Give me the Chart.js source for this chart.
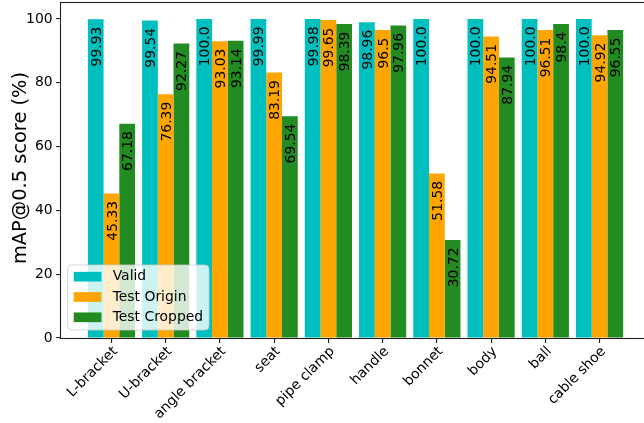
<!DOCTYPE html>
<html>
<head>
<meta charset="utf-8">
<script src="https://cdn.jsdelivr.net/npm/chart.js@4.4.1/dist/chart.umd.min.js"></script>
<style>
  html, body { margin: 0; padding: 0; background: #fff; overflow: hidden; }
  #wrap { width: 644px; height: 423px; overflow: hidden; position: relative; }
  canvas { display: block; }
</style>
</head>
<body>
<div id="wrap"><canvas id="chart" width="660" height="423" style="width:660px;height:423px"></canvas></div>
<script>
// Per-class mAP@0.5 scores (%)
const categories = ['L-bracket', 'U-bracket', 'angle bracket', 'seat', 'pipe clamp',
                    'handle', 'bonnet', 'body', 'ball', 'cable shoe'];
const validScores       = [99.93, 99.54, 100.0, 99.99, 99.98, 98.96, 100.0, 100.0, 100.0, 100.0];
const testOriginScores  = [45.33, 76.39, 93.03, 83.19, 99.65, 96.5, 51.58, 94.51, 96.51, 94.92];
const testCroppedScores = [67.18, 92.27, 93.14, 69.54, 98.39, 97.96, 30.72, 87.94, 98.4, 96.55];
const seriesNames = ['Valid', 'Test Origin', 'Test Cropped'];
const yTickValues = [0, 20, 40, 60, 80, 100];
const yAxisTitle = 'mAP@0.5 score (%)';

const seriesValues = [validScores, testOriginScores, testCroppedScores];
const seriesColors = ['#00bfbf', '#ffa500', '#228b22'];
const FONT = "'DejaVu Sans', 'Liberation Sans', sans-serif";
const BASE = 13.9;   // 10pt text
const TITLE = 19.4;  // 14pt text

// Show values the way Python prints floats (100.0, 96.5, 99.93)
function formatScore(v) {
  return Number.isInteger(v) ? v.toFixed(1) : String(v);
}

const datasets = seriesNames.map((name, i) => ({
  label: name,
  data: seriesValues[i].map((v, j) => ({ x: j, y: v })),
  backgroundColor: seriesColors[i],
  borderWidth: 0,
  categoryPercentage: 0.87,
  barPercentage: 1.0
}));

// Value labels, frame, legend and y-axis title
const decorations = {
  id: 'decorations',
  afterDatasetsDraw(chart) {
    const ctx = chart.ctx;
    ctx.save();
    ctx.font = BASE + 'px ' + FONT;
    ctx.fillStyle = '#000';
    ctx.textAlign = 'right';
    ctx.textBaseline = 'alphabetic';
    chart.data.datasets.forEach((ds, i) => {
      const meta = chart.getDatasetMeta(i);
      meta.data.forEach((bar, j) => {
        ctx.save();
        ctx.translate(bar.x, bar.y + 7.5);
        ctx.rotate(-Math.PI / 2);
        ctx.fillText(formatScore(seriesValues[i][j]), 0, 0.365 * BASE);
        ctx.restore();
      });
    });
    ctx.restore();
  },
  afterDraw(chart) {
    const ctx = chart.ctx;
    const a = chart.chartArea;

    // axes frame
    ctx.save();
    ctx.strokeStyle = '#222';
    ctx.lineWidth = 1.1;
    ctx.strokeRect(Math.round(a.left) - 0.5, Math.round(a.top) - 0.5,
                   Math.round(a.right - a.left) + 1, Math.round(a.bottom - a.top) + 1);
    ctx.restore();

    // legend (lower left, translucent box)
    ctx.save();
    const bx = a.left + 6.7, by = 265, bw = 141.3, bh = 65;
    ctx.beginPath();
    if (ctx.roundRect) ctx.roundRect(bx, by, bw, bh, 4); else ctx.rect(bx, by, bw, bh);
    ctx.fillStyle = 'rgba(255,255,255,0.8)';
    ctx.fill();
    ctx.strokeStyle = 'rgba(204,204,204,0.8)';
    ctx.lineWidth = 1;
    ctx.stroke();
    ctx.font = BASE + 'px ' + FONT;
    ctx.textAlign = 'left';
    ctx.textBaseline = 'middle';
    seriesNames.forEach((name, i) => {
      const cy = 276.7 + i * 20.3;
      ctx.fillStyle = seriesColors[i];
      ctx.fillRect(bx + 6, cy - 4.85, 27.8, 9.7);
      ctx.fillStyle = '#000';
      ctx.fillText(name, bx + 45, cy);
    });
    ctx.restore();

    // y-axis title
    ctx.save();
    ctx.translate(26, 168);
    ctx.rotate(-Math.PI / 2);
    ctx.font = TITLE + 'px ' + FONT;
    ctx.fillStyle = '#000';
    ctx.textAlign = 'center';
    ctx.textBaseline = 'alphabetic';
    ctx.fillText(yAxisTitle, 0, 0);
    ctx.restore();
  }
};

new Chart(document.getElementById('chart'), {
  type: 'bar',
  data: { datasets },
  options: {
    responsive: false,
    animation: false,
    devicePixelRatio: 1,
    layout: { padding: { top: 3, right: 10, left: 0, bottom: 0 } },
    plugins: {
      legend: { display: false },
      tooltip: { enabled: false }
    },
    scales: {
      x: {
        type: 'linear',
        min: -0.93,
        max: 9.93,
        bounds: 'data',
        offset: false,
        grid: { offset: false, drawOnChartArea: false, drawTicks: true, tickLength: 4.9, color: '#222', lineWidth: 1.1 },
        border: { display: false },
        afterBuildTicks: (s) => { s.ticks = categories.map((_, i) => ({ value: i })); },
        ticks: {
          autoSkip: false,
          minRotation: 45,
          maxRotation: 45,
          padding: 0.5,
          labelOffset: 4,
          color: '#000',
          font: { family: FONT, size: BASE },
          callback: (v) => categories[v] !== undefined ? categories[v] : ''
        },
        afterFit: (s) => { s.height = 85; s.paddingLeft = 0; s.paddingRight = 0; }
      },
      y: {
        type: 'linear',
        min: 0,
        max: 105,
        bounds: 'data',
        grid: { drawOnChartArea: false, drawTicks: true, tickLength: 4.9, color: '#222', lineWidth: 1.1 },
        border: { display: false },
        afterBuildTicks: (s) => { s.ticks = yTickValues.map(v => ({ value: v })); },
        ticks: {
          padding: 3.5,
          color: '#000',
          font: { family: FONT, size: BASE }
        },
        afterFit: (s) => { s.width = 61; s.paddingTop = 0; s.paddingBottom = 0; }
      }
    }
  },
  plugins: [decorations]
});
</script>
</body>
</html>
